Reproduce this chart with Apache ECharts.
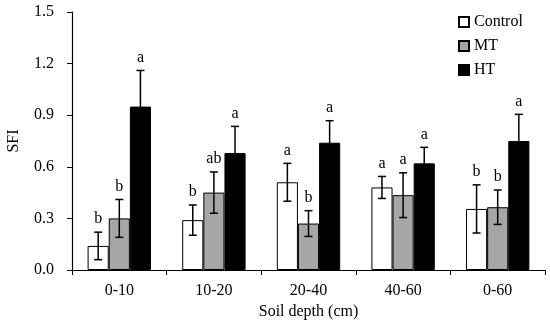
<!DOCTYPE html>
<html><head><meta charset="utf-8">
<script src="https://cdn.jsdelivr.net/npm/echarts@6/dist/echarts.min.js"></script>
<style>html,body{margin:0;padding:0;background:#fff}#c{width:550px;height:324px}</style>
</head><body><div id="c"></div>
<script>
const categories = ['0-10','10-20','20-40','40-60','0-60'];
const seriesNames = ['Control','MT','HT'];
const controlVals = [0.14, 0.29, 0.51, 0.48, 0.355];
const mtVals      = [0.30, 0.45, 0.27, 0.435, 0.365];
const htVals      = [0.95, 0.68, 0.74, 0.62, 0.75];
const controlErr  = [0.08, 0.088, 0.11, 0.064, 0.14];
const mtErr       = [0.11, 0.12, 0.075, 0.13, 0.10];
const htErr       = [0.21, 0.155, 0.128, 0.093, 0.155];
const controlLetters = ['b','b','a','a','b'];
const mtLetters      = ['b','ab','b','a','b'];
const htLetters      = ['a','a','a','a','a'];
const yTicks = [0.0, 0.3, 0.6, 0.9, 1.2, 1.5];

const FONT = '"Liberation Serif","Times New Roman",serif';
const colors = ['#ffffff','#a6a6a6','#000000'];
const vals = [controlVals, mtVals, htVals];
const errs = [controlErr, mtErr, htErr];
const letters = [controlLetters, mtLetters, htLetters];
const CAT_GAP = 0.33;

const chart = echarts.init(document.getElementById('c'));
const series = [];
seriesNames.forEach((n,i)=>{
  series.push({
    name:n, type:'bar', data:vals[i], barGap:'0%', barCategoryGap:(CAT_GAP*100)+'%',
    itemStyle:{color:colors[i], borderColor:'#000', borderWidth:1},
    emphasis:{disabled:true}, animation:false
  });
});
seriesNames.forEach((n,i)=>{
  series.push({
    type:'custom', animation:false, silent:true, z:10,
    data: categories.map((c,k)=>[k, vals[i][k], errs[i][k]]),
    renderItem:function(params, api){
      const k = api.value(0), v = api.value(1), e = api.value(2);
      const catW = api.size([1,0])[0];
      const bw = catW*(1-CAT_GAP)/3;
      const center = api.coord([k, v]);
      const x = center[0] + (i-1)*bw;
      const top = api.coord([k, v+e])[1];
      const bot = api.coord([k, v-e])[1];
      const cap = 4;
      const ls = {stroke:'#000', lineWidth:1.5};
      return {type:'group', children:[
        {type:'line', shape:{x1:x,y1:top,x2:x,y2:bot}, style:ls},
        {type:'line', shape:{x1:x-cap,y1:top,x2:x+cap,y2:top}, style:ls},
        {type:'line', shape:{x1:x-cap,y1:bot,x2:x+cap,y2:bot}, style:ls},
        {type:'text', x:x, y:top-5, style:{text:letters[i][k], textAlign:'center', textVerticalAlign:'bottom', font:'16px '+FONT, fill:'#000'}}
      ]};
    }
  });
});

chart.setOption({
  animation:false,
  backgroundColor:'#fff',
  grid:{left:72, right:5, top:12, bottom:54, containLabel:false, outerBoundsMode:'none'},
  legend:{
    data:seriesNames, orient:'vertical', left:458, top:14, padding:0, itemWidth:10, itemHeight:10, itemGap:8,
    icon:'rect',
    textStyle:{fontFamily:FONT, fontSize:16, color:'#000'}
  },
  xAxis:{
    type:'category', data:categories,
    axisLine:{lineStyle:{color:'#000', width:1.2}},
    axisTick:{show:true, inside:false, length:5, lineStyle:{color:'#000'}},
    axisLabel:{fontFamily:FONT, fontSize:16, color:'#000', margin:13},
    name:'Soil depth (cm)', nameLocation:'middle', nameGap:32,
    nameTextStyle:{fontFamily:FONT, fontSize:16, color:'#000'}
  },
  yAxis:{
    type:'value', min:0, max:1.5, interval:0.3,
    splitLine:{show:false},
    axisLine:{show:true, lineStyle:{color:'#000', width:1.2}},
    axisTick:{show:true, length:5, lineStyle:{color:'#000'}},
    axisLabel:{fontFamily:FONT, fontSize:16, color:'#000', margin:18,
      formatter:function(v){return v.toFixed(1);}},
    name:'SFI', nameLocation:'middle', nameGap:50, nameRotate:90,
    nameTextStyle:{fontFamily:FONT, fontSize:16, color:'#000'}
  },
  series:series
});
</script></body></html>
